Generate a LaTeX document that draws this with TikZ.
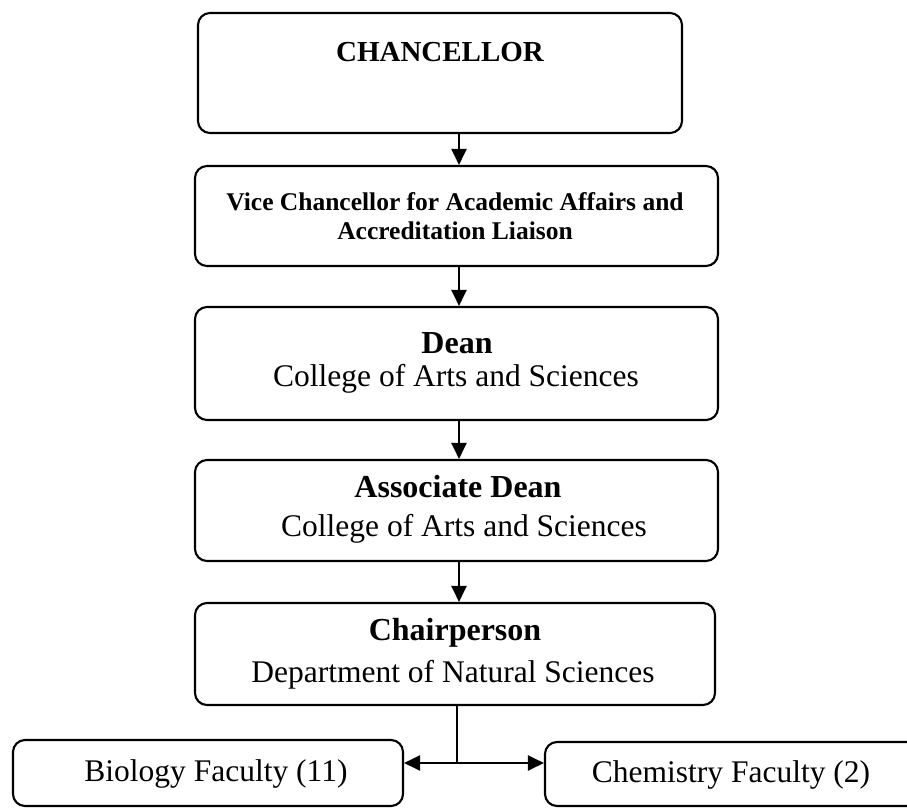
\documentclass[tikz,border=0pt]{standalone}
\usepackage{fontspec}
\setmainfont{Liberation Serif}
\usetikzlibrary{arrows.meta}
\begin{document}
\begin{tikzpicture}[x=1pt,y=-1pt,
  box/.style={draw,line width=2.1pt,rounded corners=12pt,inner sep=0pt},
  link/.style={line width=2.1pt},
  arr/.style={line width=2.1pt,-{Triangle[length=16pt,width=15pt]}},
  head/.style={font=\fontsize{32}{36}\selectfont\bfseries,inner sep=0pt},
  sub/.style={font=\fontsize{31.5}{36}\selectfont,inner sep=0pt}]
\useasboundingbox (0,0) rectangle (907,808);
% boxes
\node[box,minimum width=484pt,minimum height=120pt] (chan) at (440,73) {};
\node[box,minimum width=523pt,minimum height=100pt] (vc) at (456.5,216) {};
\node[box,minimum width=523pt,minimum height=113pt] (dean) at (456.5,363.5) {};
\node[box,minimum width=523pt,minimum height=101pt] (assoc) at (456.5,510.5) {};
\node[box,minimum width=520pt,minimum height=102pt] (chair) at (455,654) {};
\node[box,minimum width=390pt,minimum height=66pt] (bio) at (208,773) {};
\node[box,minimum width=385pt,minimum height=64pt] (chem) at (737.5,774) {};
% texts
\node[font=\fontsize{29}{34}\selectfont\bfseries,inner sep=0pt] (tchan) at (440,52) {CHANCELLOR};
\node[font=\fontsize{25.5}{29}\selectfont\bfseries,align=center,inner sep=0pt] (tvc) at (455,216) {Vice Chancellor for Academic Affairs and\\Accreditation Liaison};
\node[head] (tdean) at (457,343) {Dean};
\node[sub] (tdean2) at (456,379) {College of Arts and Sciences};
\node[head] (tassoc) at (458,487) {Associate Dean};
\node[sub] (tassoc2) at (464,529) {College of Arts and Sciences};
\node[head] (tchair) at (455,633) {Chairperson};
\node[sub] (tchair2) at (453,675) {Department of Natural Sciences};
\node[sub] (tbio) at (216,774) {Biology Faculty (11)};
\node[sub] (tchem) at (731,775) {Chemistry Faculty (2)};
% connectors
\coordinate (ax) at (459,0);
\coordinate (jn) at (457,763);
\draw[arr] (chan.south -| ax) -- (vc.north -| ax);
\draw[arr] (vc.south -| ax) -- (dean.north -| ax);
\draw[arr] (dean.south -| ax) -- (assoc.north -| ax);
\draw[arr] (assoc.south -| ax) -- (chair.north -| ax);
\draw[link] (chair.south -| jn) -- (jn);
\draw[arr] (jn) -- (bio.east |- jn);
\draw[arr] (jn) -- (chem.west |- jn);
\end{tikzpicture}
\end{document}
